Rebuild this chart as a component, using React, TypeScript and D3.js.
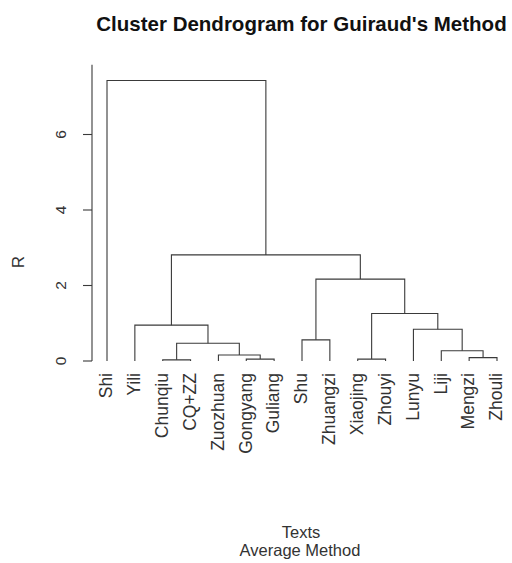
import React from "react";
import * as d3 from "d3";

// Leaves in dendrogram order
const leafLabels = [
  "Shi", "Yili", "Chunqiu", "CQ+ZZ", "Zuozhuan", "Gongyang", "Guliang",
  "Shu", "Zhuangzi", "Xiaojing", "Zhouyi", "Lunyu", "Liji", "Mengzi", "Zhouli",
];

// hclust-style merge table: negative = leaf (1-based), positive = earlier merge (1-based)
const mergeLeft = [-3, -6, -10, -14, -5, -13, 1, -8, -12, -2, 3, 8, 10, -1];
const mergeRight = [-4, -7, -11, -15, 2, 4, 5, -9, 6, 7, 9, 11, 12, 13];
const mergeHeights = [0.03, 0.05, 0.05, 0.09, 0.16, 0.27, 0.47, 0.56, 0.84, 0.95, 1.26, 2.17, 2.81, 7.43];

const yTicks = [0, 2, 4, 6];
const axisTop = 7.85;

const titleText = "Cluster Dendrogram for Guiraud's Method";
const yLabel = "R";
const xLabel = "Texts";
const subLabel = "Average Method";

const W = 512;
const H = 563;
const FONT = "'Liberation Sans', Arial, Helvetica, sans-serif";
const INK = "#3a3a3a";

export default function App() {
  const x = d3.scalePoint<string>().domain(leafLabels).range([107, 497]);
  const y = d3.scaleLinear().domain([0, 6]).range([361, 134.5]);

  // resolve position of a node (leaf or merge): returns [x, height]
  const mergeX: number[] = [];
  const nodePos = (id: number): [number, number] => {
    if (id < 0) return [x(leafLabels[-id - 1]) as number, 0];
    return [mergeX[id - 1], mergeHeights[id - 1]];
  };

  const segments: string[] = [];
  mergeHeights.forEach((h, i) => {
    const [xl, hl] = nodePos(mergeLeft[i]);
    const [xr, hr] = nodePos(mergeRight[i]);
    mergeX[i] = (xl + xr) / 2;
    const path = d3.path();
    path.moveTo(xl, y(hl));
    path.lineTo(xl, y(h));
    path.lineTo(xr, y(h));
    path.lineTo(xr, y(hr));
    segments.push(path.toString());
  });

  const axisX = 92;
  const labelTop = 373;

  return (
    <svg
      width={W}
      height={H}
      style={{ position: "absolute", left: 0, top: 0, background: "#fff" }}
      fontFamily={FONT}
    >
      <rect width={W} height={H} fill="#fff" />
      <text x={301.5} y={31} textAnchor="middle" fontSize={20.5} fontWeight="bold" fill="#111">
        {titleText}
      </text>

      {/* dendrogram branches */}
      <g fill="none" stroke={INK} strokeWidth={1.1}>
        {segments.map((d, i) => (
          <path key={i} d={d} />
        ))}
      </g>

      {/* y axis */}
      <g stroke={INK} strokeWidth={1.1}>
        <line x1={axisX} x2={axisX} y1={y(0)} y2={y(axisTop)} />
        {yTicks.map((t) => (
          <line key={t} x1={axisX - 9} x2={axisX} y1={y(t)} y2={y(t)} />
        ))}
      </g>
      <g fontSize={15.5} fill="#333">
        {yTicks.map((t) => (
          <text key={t} transform={`translate(66,${y(t)}) rotate(-90)`} textAnchor="middle">
            {t}
          </text>
        ))}
        <text transform={`translate(24,262) rotate(-90)`} textAnchor="middle" fontSize={17}>
          {yLabel}
        </text>
      </g>

      {/* leaf labels */}
      <g fontSize={17.5} fill="#333">
        {leafLabels.map((l) => (
          <text
            key={l}
            transform={`translate(${x(l)},${labelTop}) rotate(-90)`}
            textAnchor="end"
            dy="0.3em"
          >
            {l}
          </text>
        ))}
      </g>

      <text x={301} y={538} textAnchor="middle" fontSize={16.5} fill="#333">
        {xLabel}
      </text>
      <text x={300} y={556} textAnchor="middle" fontSize={16.5} fill="#333">
        {subLabel}
      </text>
    </svg>
  );
}
